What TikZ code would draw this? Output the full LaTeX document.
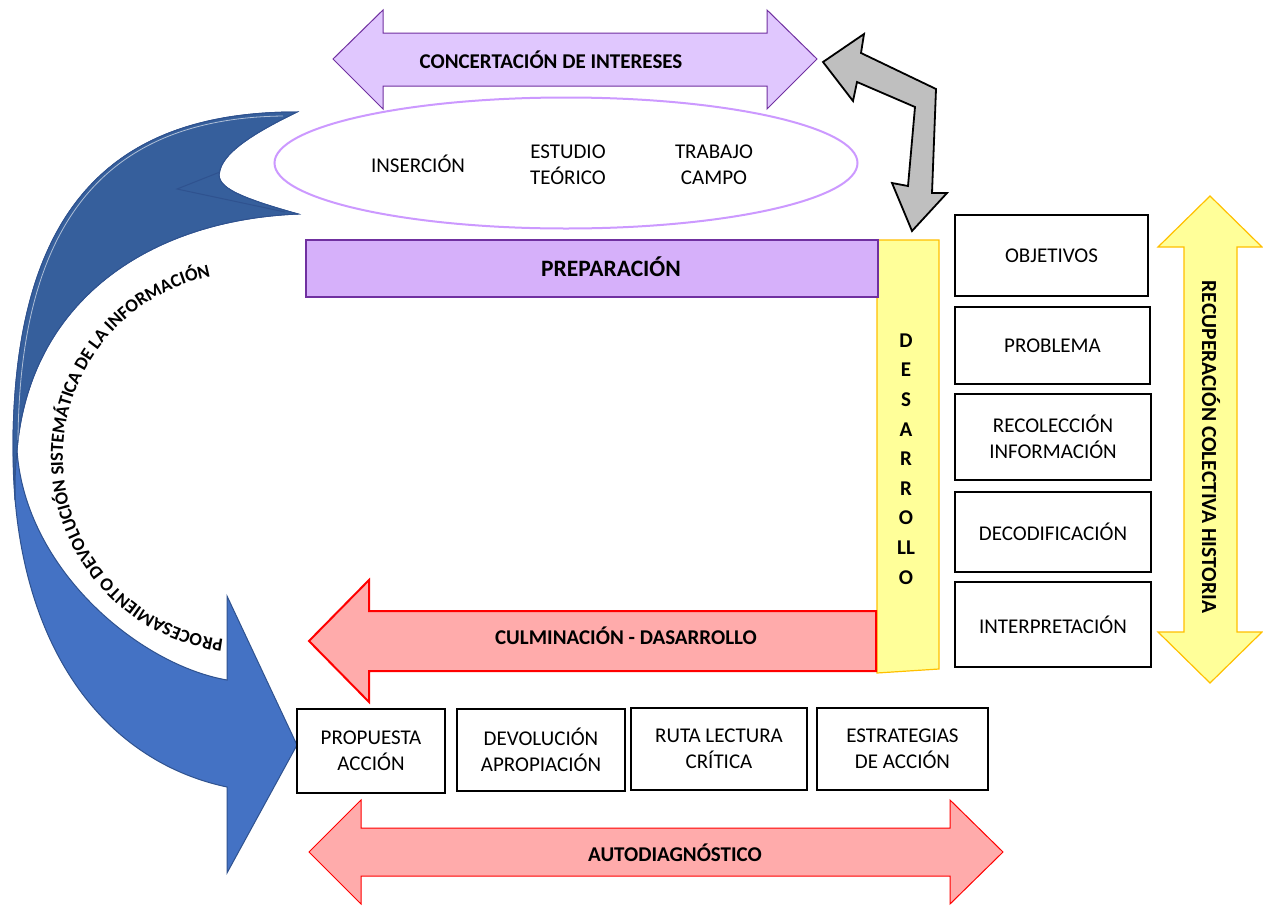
\documentclass[tikz,border=0pt]{standalone}
\usepackage{fontspec}
\setmainfont{Carlito}
\usetikzlibrary{shapes.geometric,decorations.text}

\definecolor{lavfill}{HTML}{E0C7FE}
\definecolor{purpline}{HTML}{7030A0}
\definecolor{prepfill}{HTML}{D6B0FA}
\definecolor{ellline}{HTML}{CC99FF}
\definecolor{yelfill}{HTML}{FFFF99}
\definecolor{yelline}{HTML}{FFC000}
\definecolor{redfill}{HTML}{FFABAB}
\definecolor{redline}{HTML}{FF0000}
\definecolor{greyfill}{HTML}{BFBFBF}
\definecolor{bluelight}{HTML}{4472C4}
\definecolor{bluedark}{HTML}{365F9C}
\definecolor{blueline}{HTML}{2F528F}

\begin{document}
\begin{tikzpicture}[x=1pt,y=-1pt,
  lbl/.style={font=\fontsize{21}{25}\selectfont\bfseries, inner sep=0pt},
  txt/.style={font=\fontsize{21}{26}\selectfont, align=center, inner sep=0pt},
  stepbox/.style={draw=black, line width=2pt, fill=white,
    font=\fontsize{21}{26}\selectfont, align=center, inner sep=0pt},
  lavarrow/.style={fill=lavfill, draw=purpline, line width=1pt, line join=miter},
  redarrow/.style={fill=redfill, draw=redline, line join=miter},
  yelshape/.style={fill=yelfill, draw=yelline, line width=1.2pt, line join=miter},
]
\fill[white] (0,0) rectangle (1263,905);
\useasboundingbox (0,0) rectangle (1263,905);

% ---- curved blue arrow (left) ----
\fill[bluelight, draw=blueline, line width=1pt]
  (297,112) .. controls (120,112) and (13,200) .. (13,450)
  .. controls (13,640) and (100,760) .. (227,787)
  -- (227,873) -- (297,745) -- (227,596) -- (227,680)
  .. controls (140,665) and (25,570) .. (17,450)
  .. controls (30,300) and (150,220) .. (298,214)
  .. controls (230,195) and (215,185) .. (220,170)
  .. controls (225,150) and (260,130) .. cycle;
\fill[bluedark, draw=blueline, line width=1pt]
  (297,112) .. controls (120,112) and (13,200) .. (13,450)
  -- (15,500) .. controls (15,475) .. (17,450)
  .. controls (30,300) and (150,220) .. (298,214)
  .. controls (230,195) and (215,185) .. (220,170)
  .. controls (225,150) and (260,130) .. cycle;
\draw[blueline, line width=1pt] (220,172) -- (177,189) -- (285,212);
\draw[white, opacity=0.6, line width=0.8pt]
  (283,116) .. controls (120,118) and (20,205) .. (18,440);

% ---- ellipse with the three first stages ----
\node[ellipse, draw=ellline, line width=2pt, minimum width=583pt,
      minimum height=131pt, inner sep=0pt] (ell) at (566,163) {};
\node[txt] (ins) at (418,164) {INSERCIÓN};
\node[txt] (est) at (568,165) {ESTUDIO\\TEÓRICO};
\node[txt] (tra) at (714,165) {TRABAJO\\CAMPO};

% ---- top double arrow ----
\draw[lavarrow] (333,59) -- (383,10) -- (383,33) -- (767,33) -- (767,10)
  -- (817,59) -- (767,109) -- (767,86) -- (383,86) -- (383,109) -- cycle;
\node[lbl] (conc) at (551,60) {CONCERTACIÓN DE INTERESES};

% ---- grey bent double arrow ----
\draw[fill=greyfill, draw=black, line width=1.8pt, line join=miter]
  (823,62) -- (864,34) -- (861,53) -- (936,89) -- (932,193) -- (947,193)
  -- (912,231) -- (892,183) -- (908,186) -- (915,107) -- (857,82)
  -- (853,101) -- cycle;

% ---- DESARROLLO bar ----
\draw[yelshape] (877,240) -- (939,240) -- (939,669) -- (877,673) -- cycle;
\node[font=\fontsize{21}{29.6}\selectfont\bfseries, align=center, inner sep=0pt]
  (des) at (906,459) {D\\E\\S\\A\\R\\R\\O\\LL\\O};

% ---- PREPARACION bar ----
\draw[fill=prepfill, draw=purpline, line width=1.5pt] (306,240) rectangle (878,297);
\node[lbl, font=\fontsize{23.5}{28}\selectfont\bfseries] (prep) at (611,267) {PREPARACIÓN};

% ---- culmination arrow ----
\draw[redarrow, line width=2pt] (309,641) -- (369,580) -- (369,611) -- (876,611)
  -- (876,671) -- (369,671) -- (369,702) -- cycle;
\node[lbl] (culm) at (626,636) {CULMINACIÓN - DASARROLLO};

% ---- right column of steps ----
\node[stepbox, minimum width=193pt, minimum height=81pt] (obj) at (1051.5,255.5) {OBJETIVOS};
\node[stepbox, minimum width=195pt, minimum height=77pt] (prob) at (1052.5,345.5) {PROBLEMA};
\node[stepbox, minimum width=196pt, minimum height=86pt] (reco) at (1053,437) {RECOLECCIÓN\\INFORMACIÓN};
\node[stepbox, minimum width=196pt, minimum height=80pt] (deco) at (1053,532) {DECODIFICACIÓN};
\node[stepbox, minimum width=196pt, minimum height=85pt] (inte) at (1053,624.5) {INTERPRETACIÓN};

% ---- vertical double arrow ----
\draw[yelshape] (1210,196) -- (1262,247) -- (1237,247) -- (1237,632) -- (1262,632)
  -- (1210,683) -- (1158,632) -- (1184,632) -- (1184,247) -- (1158,247) -- cycle;
\node[lbl, font=\fontsize{21.5}{25}\selectfont\bfseries, rotate=-90] (recu) at (1211,447)
  {RECUPERACIÓN COLECTIVA HISTORIA};

% ---- bottom row of steps ----
\node[stepbox, minimum width=148pt, minimum height=84pt] (prop) at (371,751) {PROPUESTA\\ACCIÓN};
\node[stepbox, minimum width=168pt, minimum height=82pt] (devo) at (541,750) {DEVOLUCIÓN\\APROPIACIÓN};
\node[stepbox, minimum width=176pt, minimum height=82pt] (ruta) at (719,749) {RUTA LECTURA\\CRÍTICA};
\node[stepbox, minimum width=171pt, minimum height=82pt] (estr) at (902.5,749) {ESTRATEGIAS\\DE ACCIÓN};

% ---- bottom double arrow ----
\draw[redarrow, line width=1pt] (309,852) -- (361,800) -- (361,828) -- (950,828)
  -- (950,800) -- (1003,852) -- (950,904) -- (950,876) -- (361,876) -- (361,904) -- cycle;
\node[lbl] (auto) at (675,853) {AUTODIAGNÓSTICO};

% ---- text along the curved arrow ----
\coordinate (arcc) at (247,457);
\path[decorate, decoration={text along path, text align=center,
    text={|\fontsize{18.5}{18.5}\selectfont\bfseries|PROCESAMIENTO DEVOLUCIÓN SISTEMÁTICA DE LA INFORMACIÓN}}]
  ([shift={(268:184pt)}]arcc) arc[start angle=268, end angle=96, radius=184pt];
\end{tikzpicture}
\end{document}
